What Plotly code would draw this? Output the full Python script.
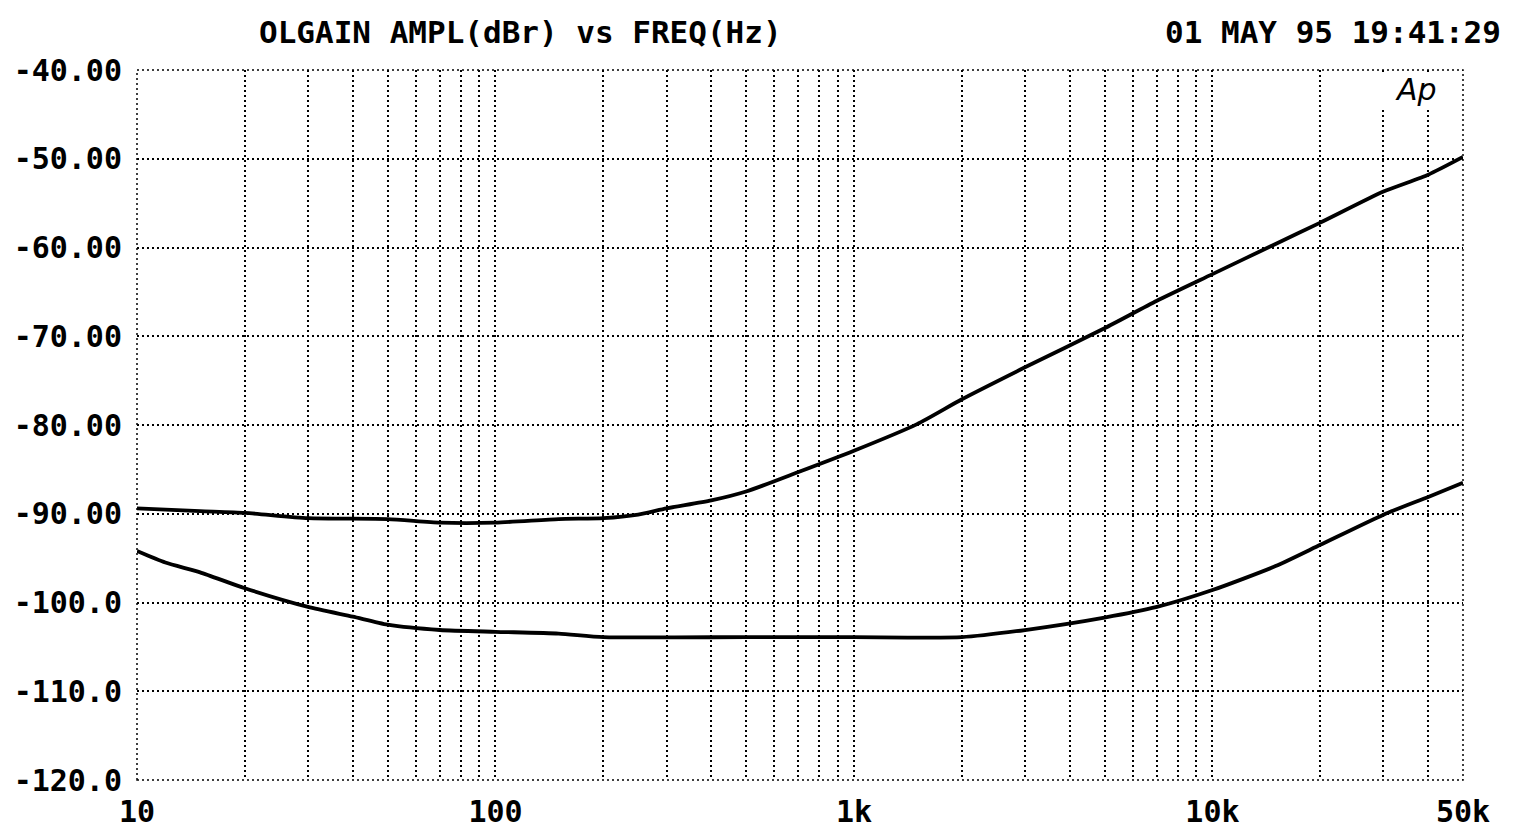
import numpy as np
import plotly.graph_objects as go

# --- data ---
freq_upper = [10, 15, 20, 30, 50, 70, 100, 150, 200, 250, 300, 400, 500, 700,
              1000, 1500, 2000, 3000, 5000, 7000, 10000, 15000, 20000, 30000, 40000, 50000]
gain_upper = [-89.4, -89.7, -89.9, -90.5, -90.6, -91.0, -91.0, -90.6, -90.5, -90.1, -89.4, -88.5, -87.5, -85.3,
              -82.9, -79.9, -77.1, -73.5, -69.1, -66.0, -63.0, -59.6, -57.2, -53.7, -51.8, -49.8]

freq_lower = [10, 12, 15, 20, 30, 40, 50, 70, 100, 150, 200, 500, 1000, 2000,
              3000, 5000, 7000, 10000, 15000, 20000, 30000, 40000, 50000]
gain_lower = [-94.2, -95.5, -96.6, -98.4, -100.5, -101.6, -102.5, -103.1, -103.3, -103.5, -103.9, -103.9, -103.9, -103.9,
              -103.1, -101.7, -100.5, -98.6, -95.9, -93.5, -90.1, -88.1, -86.5]

x_tick_vals = [m * 10 ** d for d in range(1, 5) for m in range(1, 10) if m * 10 ** d <= 50000]
x_label_map = {10: "10", 100: "100", 1000: "1k", 10000: "10k", 50000: "50k"}
x_tick_text = [x_label_map.get(v, "") for v in x_tick_vals]

y_tick_vals = [-40, -50, -60, -70, -80, -90, -100, -110, -120]
y_tick_text = ["-40.00", "-50.00", "-60.00", "-70.00", "-80.00", "-90.00", "-100.0", "-110.0", "-120.0"]

title_text = "OLGAIN AMPL(dBr) vs FREQ(Hz)"
date_text = "01 MAY 95 19:41:29"

FONT = "DejaVu Sans Mono"

fig = go.Figure()
for fx, gy in [(freq_upper, gain_upper), (freq_lower, gain_lower)]:
    fig.add_trace(go.Scatter(x=fx, y=gy, mode="lines",
                             line=dict(color="black", width=3.8, shape="spline", smoothing=0.6),
                             showlegend=False, hoverinfo="skip"))

fig.update_layout(
    width=1506, height=828,
    margin=dict(l=129, r=51, t=62, b=56),
    paper_bgcolor="white", plot_bgcolor="white",
    font=dict(family=FONT, color="black", size=30),
    xaxis=dict(type="log", range=[1, np.log10(50000)], tickvals=x_tick_vals, ticktext=x_tick_text,
               showgrid=True, gridcolor="black", gridwidth=1.5, griddash="2px,3px",
               showline=False, zeroline=False, ticks="", ticklabelstandoff=11, automargin=False,
               tickfont=dict(family=FONT, size=30, weight="bold")),
    yaxis=dict(range=[-120, -40], tickvals=y_tick_vals, ticktext=y_tick_text,
               showgrid=True, gridcolor="black", gridwidth=1.5, griddash="2px,3px",
               showline=False, zeroline=False, ticks="", ticklabelstandoff=14, automargin=False,
               tickfont=dict(family=FONT, size=30, weight="bold")),
    shapes=[
        dict(type="rect", xref="paper", yref="paper", x0=0, x1=1, y0=0, y1=1,
             line=dict(color="black", width=1.5, dash="2px,3px"), layer="below"),
        dict(type="rect", xref="paper", yref="paper", x0=0.93, x1=0.985, y0=0.947, y1=0.994,
             fillcolor="white", line=dict(width=0), layer="above"),
    ],
    annotations=[
        dict(text=title_text, xref="paper", yref="paper", x=0.289, y=1.0535, xanchor="center",
             yanchor="middle", showarrow=False, font=dict(family=FONT, size=31, weight="bold")),
        dict(text=date_text, xref="paper", yref="paper", x=1.030, y=1.0535, xanchor="right",
             yanchor="middle", showarrow=False, font=dict(family=FONT, size=31, weight="bold")),
        dict(text="<i>Ap</i>", xref="paper", yref="paper", x=0.9645, y=0.973, xanchor="center",
             yanchor="middle", showarrow=False, font=dict(family="DejaVu Sans", size=30)),
    ],
)

fig.write_html("out.html")
